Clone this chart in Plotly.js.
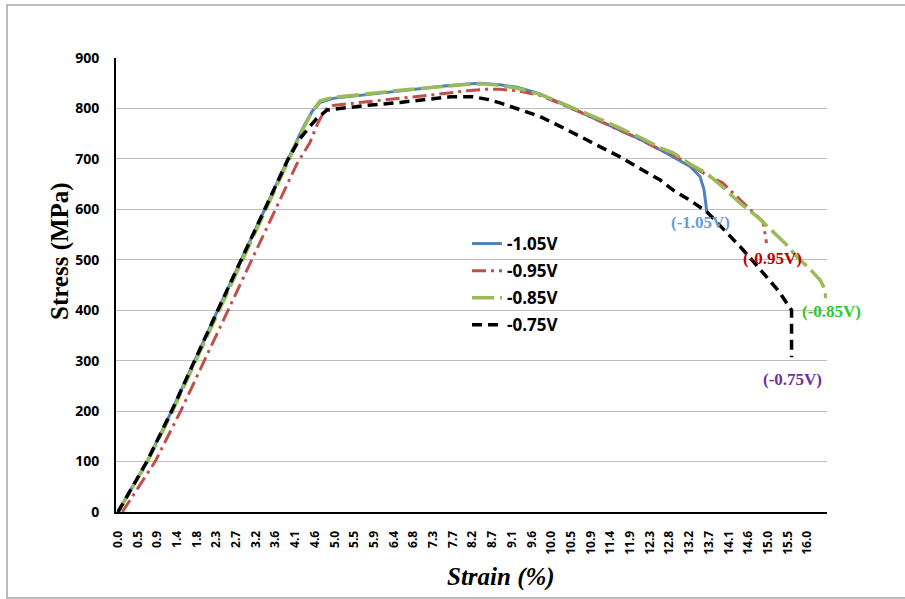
<!DOCTYPE html>
<html>
<head>
<meta charset="utf-8">
<script src="https://cdn.plot.ly/plotly-3.0.1.min.js"></script>
<style>html,body{margin:0;padding:0;background:#fff;}#chart{width:905px;height:599px;}</style>
</head>
<body>
<div id="chart"></div>
<script>
// Tick labels of the (category-like) strain axis
const tickLabels = ["0.0","0.5","0.9","1.4","1.8","2.3","2.7","3.2","3.6","4.1","4.6","5.0","5.5","5.9","6.4","6.8","7.3","7.7","8.2","8.7","9.1","9.6","10.0","10.5","10.9","11.4","11.9","12.3","12.8","13.2","13.7","14.1","14.6","15.0","15.5","16.0"];
const tickStep = 0.4559;

// -1.05V
const strain105 = [0,0.67,1.24,2.31,3.94,4.3,4.5,4.68,4.98,5.5,6.0,6.53,7.0,7.5,8.0,8.38,8.84,9.24,9.77,10.2,10.69,11.15,11.62,12.1,12.55,12.9,13.24,13.47,13.56,13.6,13.63];
const stress105 = [0,100,200,400,700,765,795,812,820,825,830,835,840,844,848,850,847,842,829,812,794,776,757,738,718,702,685,665,640,615,592];

// -0.95V
const strain095 = [0.1,0.86,1.45,2.55,4.14,4.44,4.62,4.79,4.98,5.4,5.76,6.5,7.29,8.08,8.5,8.84,9.24,9.77,10.2,10.69,11.15,11.62,12.1,12.55,12.85,13.24,13.63,14.0,14.4,14.93,14.97,15.01];
const stress095 = [0,100,200,400,690,732,770,797,806,810,813,820,827,835,838,838,835,826,811,793,775,756,738,718,708,688,668,652,618,575,555,533];

// -0.85V
const strain085 = [0,0.67,1.24,2.31,3.94,4.3,4.5,4.68,4.98,5.5,6.0,6.53,7.0,7.5,8.0,8.38,8.84,9.24,9.77,10.2,10.69,11.15,11.62,12.1,12.55,12.85,13.24,13.63,14.0,14.4,14.8,15.16,15.45,15.71,16.0,16.25,16.37,16.38];
const stress085 = [0,98,196,395,695,762,795,815,822,826,831,836,840,844,847,849,846,840,828,813,796,779,761,742,722,712,690,671,644,612,585,556,532,506,483,460,440,424];

// -0.75V
const strain075 = [0,0.67,1.24,2.31,3.94,4.21,4.45,4.6,4.84,5.2,5.76,6.53,7.2,7.69,8.22,8.55,8.84,9.24,9.77,10.2,10.69,11.15,11.62,12.08,12.55,12.85,13.2,13.63,14.0,14.4,14.7,15.02,15.3,15.48,15.59,15.59,15.59];
const stress075 = [0,100,200,400,700,740,765,780,797,801,806,812,818,823,823,818,811,799,784,766,744,725,704,681,658,638,620,595,562,526,497,466,437,414,400,350,307];

const seriesNames = ["-1.05V","-0.95V","-0.85V","-0.75V"];
const endLabels = ["(-1.05V)","(-0.95V)","(-0.85V)","(-0.75V)"];

const traces = [
  {x: strain105, y: stress105, name: seriesNames[0], legendgroup:"a", mode:"lines",
   line:{color:"#4F81BD", width:3}},
  {x: strain095, y: stress095, name: seriesNames[1], legendgroup:"b", mode:"lines",
   line:{color:"#C0504D", width:3, dash:"14px,5px,3px,5px"}},
  {x: strain085, y: stress085, name: seriesNames[2], legendgroup:"c", mode:"lines",
   line:{color:"#9BBB59", width:3.5, dash:"22px,6px"}},
  {x: strain075, y: stress075, name: seriesNames[3], legendgroup:"d", mode:"lines",
   line:{color:"#000000", width:3.5, dash:"10px,6px"}}
];

const tickVals = tickLabels.map((t,i)=>i*tickStep);

const W = 711, H = 454, L = 116, T = 58;
function px(xp){return (xp - L)/W;}
function py(yp){return (T + H - yp)/H;}

const serif = "Liberation Serif, Times New Roman, serif";
const sans = "Open Sans, Liberation Sans, Arial, sans-serif";

const layout = {
  width: 905, height: 599,
  margin: {l: L, r: 905 - L - W, t: T, b: 599 - T - H},
  paper_bgcolor: "#ffffff", plot_bgcolor: "#ffffff",
  showlegend: true,
  legend: {x: px(467), y: py(226), xanchor:"left", yanchor:"top",
    font:{family: sans, size:17, color:"#000", weight:"bold"},
    tracegroupgap: 2, bgcolor:"rgba(0,0,0,0)", borderwidth:0},
  xaxis: {range:[-0.046, 16.41], tickmode:"array", tickvals: tickVals, ticktext: tickLabels,
    tickangle:-90, tickfont:{family: sans, size:12, color:"#000", weight:"bold"},
    showgrid:false, zeroline:false, showline:true, linecolor:"#000", linewidth:2,
    ticks:"", ticklabelstandoff: 12},
  yaxis: {range:[0,900], tickmode:"array", tickvals:[0,100,200,300,400,500,600,700,800,900],
    tickfont:{family: sans, size:14, color:"#000", weight:"bold"},
    showgrid:true, gridcolor:"#BFBFBF", gridwidth:1, zeroline:false,
    showline:true, linecolor:"#000", linewidth:2, ticks:"", ticklabelstandoff: 12},
  annotations: [
    {text:"Stress (MPa)", xref:"paper", yref:"paper", x:px(60), y:py(251), textangle:-90,
     showarrow:false, xanchor:"center", yanchor:"middle",
     font:{family: serif, size:25, color:"#000", weight:"bold"}},
    {text:"<b><i>Strain (%)</i></b>", xref:"paper", yref:"paper", x:px(501), y:py(577),
     showarrow:false, xanchor:"center", yanchor:"middle",
     font:{family: serif, size:25, color:"#000"}},
    {text:endLabels[0], xref:"paper", yref:"paper", x:px(700), y:py(222), showarrow:false,
     xanchor:"center", yanchor:"middle", font:{family: serif, size:17, color:"#6A9BD6", weight:"bold"}},
    {text:endLabels[1], xref:"paper", yref:"paper", x:px(772), y:py(258), showarrow:false,
     xanchor:"center", yanchor:"middle", font:{family: serif, size:17, color:"#C00000", weight:"bold"}},
    {text:endLabels[2], xref:"paper", yref:"paper", x:px(831), y:py(311), showarrow:false,
     xanchor:"center", yanchor:"middle", font:{family: serif, size:17, color:"#2DC82D", weight:"bold"}},
    {text:endLabels[3], xref:"paper", yref:"paper", x:px(792), y:py(379), showarrow:false,
     xanchor:"center", yanchor:"middle", font:{family: serif, size:17, color:"#7030A0", weight:"bold"}}
  ],
  shapes: [
    {type:"path", xref:"paper", yref:"paper",
     path: "M " + px(906) + "," + py(5) + " L " + px(7) + "," + py(5) + " L " + px(7) + "," + py(598) + " L " + px(906) + "," + py(598),
     line:{color:"#A6A6A6", width:1.5}}
  ]
};

Plotly.newPlot("chart", traces, layout, {displayModeBar:false, staticPlot:true});
</script>
</body>
</html>
